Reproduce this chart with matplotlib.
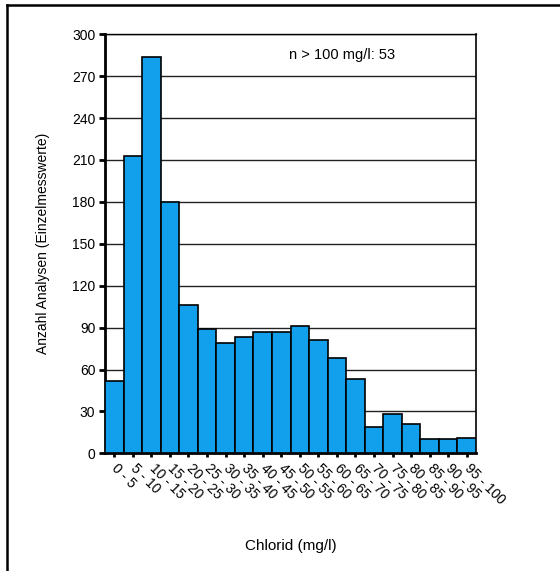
# -*- coding: utf-8 -*-
import matplotlib
matplotlib.use("Agg")
import matplotlib.pyplot as plt
from matplotlib.lines import Line2D

plt.rcParams['font.family'] = ['Liberation Sans', 'DejaVu Sans']

# chloride classes (mg/l) and number of analyses per class
klassen = ["0 - 5", "5 - 10", "10 - 15", "15 - 20", "20 - 25", "25 - 30",
           "30 - 35", "35 - 40", "40 - 45", "45 - 50", "50 - 55", "55 - 60",
           "60 - 65", "65 - 70", "70 - 75", "75 - 80", "80 - 85", "85 - 90",
           "90 - 95", "95 - 100"]
anzahl = [52, 213, 284, 180, 106, 89, 79, 83, 87, 87, 91, 81, 68, 53,
          19, 28, 21, 10, 10, 11]
y_ticks = [0, 30, 60, 90, 120, 150, 180, 210, 240, 270, 300]
n_ueber_100 = 53

fig = plt.figure(figsize=(5.6, 5.71), dpi=100)
ax = fig.add_axes([0.1875, 0.206, 0.6625, 0.734])

x = range(len(anzahl))
ax.bar(x, anzahl, width=1.0, color="#12A0EC", edgecolor="black",
       linewidth=1.2, zorder=3)

ax.set_xlim(-0.5, len(anzahl) - 0.5)
ax.set_ylim(0, 300)
ax.set_yticks(y_ticks)
ax.yaxis.grid(True, color="#222222", linewidth=1.0, zorder=0)
ax.set_axisbelow(True)

ax.set_xticks(list(x))
ax.set_xticklabels(klassen, rotation=-45, ha="left", va="center",
                   rotation_mode="anchor", fontsize=10)
ax.tick_params(axis="x", length=3, width=2, pad=6)
ax.tick_params(axis="y", length=4, width=2, labelsize=10, pad=3)

for side in ["left", "bottom"]:
    ax.spines[side].set_linewidth(2.0)
ax.spines["right"].set_linewidth(1.2)
ax.spines["top"].set_linewidth(1.0)

ax.set_ylabel("Anzahl Analysen (Einzelmesswerte)", fontsize=10)
ax.yaxis.set_label_coords(-0.148, 0.5)
ax.set_xlabel("Chlorid (mg/l)", fontsize=11)
ax.xaxis.set_label_coords(0.5, -0.205)

ax.text(0.496, 0.95, "n > 100 mg/l: %d" % n_ueber_100, transform=ax.transAxes,
        fontsize=10.5, ha="left", va="center")

# frame lines on the left and top of the figure
fig.add_artist(Line2D([6.5 / 560, 6.5 / 560], [0, 1 - 5 / 571],
                      transform=fig.transFigure, color="black", linewidth=1.8))
fig.add_artist(Line2D([6.5 / 560, 1], [1 - 5 / 571, 1 - 5 / 571],
                      transform=fig.transFigure, color="black", linewidth=1.8))

fig.savefig("out.png", dpi=100)
